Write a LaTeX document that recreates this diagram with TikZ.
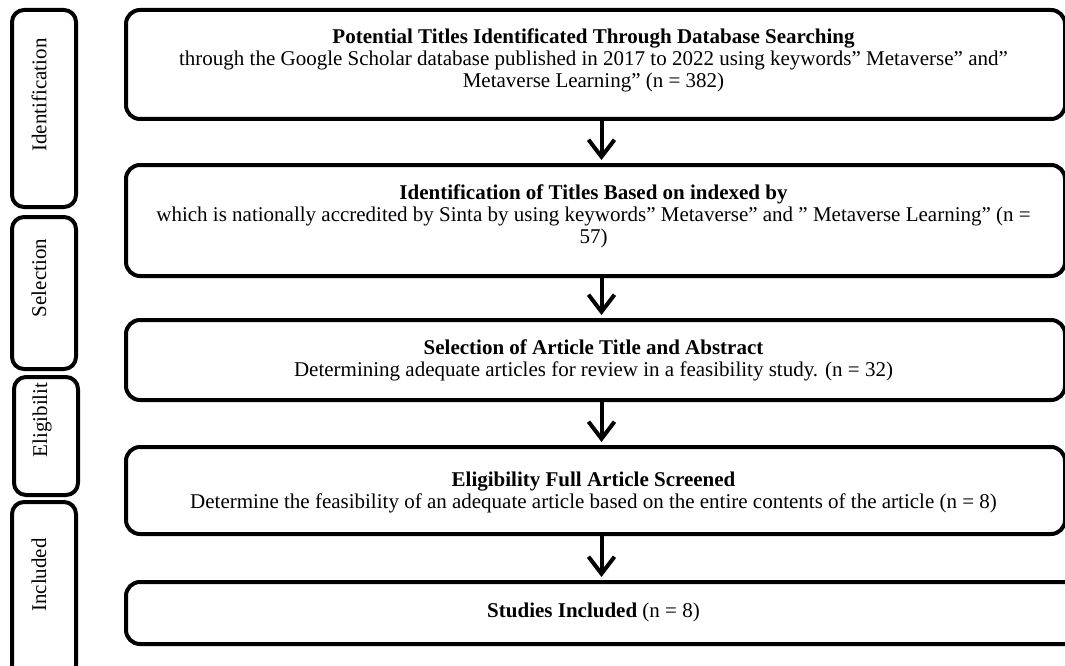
\documentclass[tikz,border=0pt]{standalone}
\usepackage{fontspec}
\setmainfont{Liberation Serif}
\usetikzlibrary{arrows.meta}

\tikzset{
  mainbox/.style={draw, line width=4pt, rounded corners=14pt, anchor=north west, inner sep=0pt, minimum width=939pt},
  sidebox/.style={draw, line width=4pt, rounded corners=12pt, anchor=north west, inner sep=0pt, minimum width=64pt},
  boxtext/.style={align=center, inner sep=0pt, anchor=base, font=\fontsize{21}{22}\selectfont},
  sidetext/.style={rotate=90, inner sep=0pt, font=\fontsize{21}{22}\selectfont},
  flowarrow/.style={line width=4pt, -{Straight Barb[length=17pt, width=26pt, line width=4pt]}, shorten >=3pt},
}

\begin{document}
\begin{tikzpicture}[x=1pt, y=-1pt]
	\useasboundingbox (0,0) rectangle (1065,666);
	
	% Draw side boxes
	\node[sidebox, minimum height=197pt] (identbox) at (10,8) {};
	\node[sidebox, minimum height=152pt] (selectbox) at (10,215) {};
	\node[sidebox, minimum height=118pt] (eligbox) at (12,375) {};
	\node[sidebox, minimum height=180pt] (inclbox) at (10,500) {};
	
	% Draw side labels
	\node[sidetext] (identlabel) at (39,95) {Identification};
	\node[sidetext] (selectlabel) at (39,278) {Selection};
	\node[sidetext] (eliglabel) at (42,420) {Eligibilit};
	\node[sidetext] (incllabel) at (39,575) {Included};
	
	% Draw main boxes
	\node[mainbox, minimum height=109pt] (titlebox) at (124,8) {};
	\node[mainbox, minimum height=111pt] (sintabox) at (124,163) {};
	\node[mainbox, minimum height=80pt] (abstractbox) at (124,318) {};
	\node[mainbox, minimum height=87pt] (fullbox) at (124,445) {};
	\node[mainbox, minimum height=62pt, minimum width=960pt] (studybox) at (124,580) {};
	
	% Draw text (base = last line)
	\node[boxtext] (titletext) at (593.5,88) {\textbf{Potential Titles Identificated Through Database Searching}\\
		through the Google Scholar database published in 2017 to 2022 using keywords” Metaverse” and”\\
		Metaverse Learning” (n = 382)};
	\node[boxtext] (sintatext) at (593.5,243) {\textbf{Identification of Titles Based on indexed by}\\
		which is nationally accredited by Sinta by using keywords” Metaverse” and ” Metaverse Learning” (n =\\
		57)};
	\node[boxtext] (abstracttext) at (593.5,376) {\textbf{Selection of Article Title and Abstract}\\
		Determining adequate articles for review in a feasibility study. (n = 32)};
	\node[boxtext] (fulltext) at (593.5,508) {\textbf{Eligibility Full Article Screened}\\
		Determine the feasibility of an adequate article based on the entire contents of the article (n = 8)};
	\node[boxtext] (studytext) at (593.5,617) {\textbf{Studies Included} (n = 8)};
	
	% Draw arrows
	\draw[flowarrow] ([xshift=6pt]titlebox.south) -- ([xshift=6pt]sintabox.north);
	\draw[flowarrow] ([xshift=6pt]sintabox.south) -- ([xshift=6pt]abstractbox.north);
	\draw[flowarrow] ([xshift=6pt]abstractbox.south) -- ([xshift=6pt]fullbox.north);
	\draw[flowarrow] ([xshift=6pt]fullbox.south) -- ([xshift=6pt]fullbox.south |- studybox.north);
\end{tikzpicture}
\end{document}
